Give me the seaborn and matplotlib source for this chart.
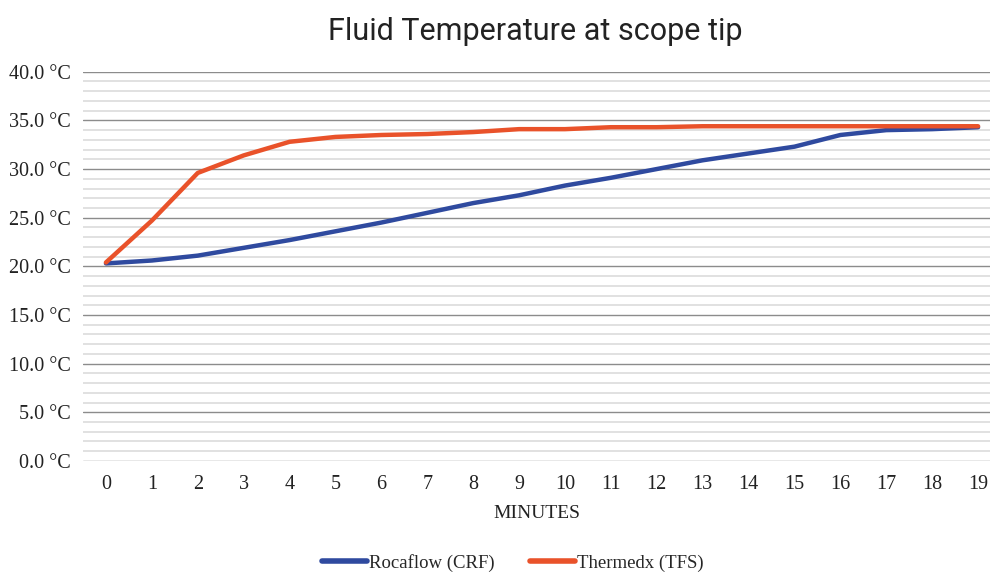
import numpy as np
import pandas as pd
import matplotlib.pyplot as plt
import seaborn as sns
from matplotlib.ticker import MultipleLocator, FuncFormatter

minutes = list(range(20))
rocaflow = [20.3, 20.6, 21.1, 21.9, 22.7, 23.6, 24.5, 25.5, 26.5, 27.3,
            28.3, 29.1, 30.0, 30.9, 31.6, 32.3, 33.5, 34.0, 34.1, 34.3]
thermedx = [20.4, 24.7, 29.6, 31.4, 32.8, 33.3, 33.5, 33.6, 33.8, 34.1,
            34.1, 34.3, 34.3, 34.4, 34.4, 34.4, 34.4, 34.4, 34.4, 34.4]
series_names = ['Rocaflow (CRF)', 'Thermedx (TFS)']
colors = ['#2F4A9F', '#E9522A']

df = pd.DataFrame({
    'minute': minutes * 2,
    'temp': rocaflow + thermedx,
    'series': [series_names[0]] * 20 + [series_names[1]] * 20,
})

sns.set_style('white')
plt.rcParams['font.family'] = ['Liberation Serif', 'DejaVu Serif']

fig = plt.figure(figsize=(9.93, 5.74), dpi=100)
ax = fig.add_axes([83 / 993, 0.197, 907 / 993, 0.678])

sns.lineplot(data=df, x='minute', y='temp', hue='series', palette=colors,
             linewidth=3.2, ax=ax, legend=False, solid_capstyle='round',
             solid_joinstyle='round')

ax.set_xlim(-0.5, 19.26)
ax.set_ylim(0, 40)
ax.set_xticks(minutes)
ax.yaxis.set_major_locator(MultipleLocator(5))
ax.yaxis.set_minor_locator(MultipleLocator(1))
ax.yaxis.set_major_formatter(FuncFormatter(lambda v, p: f'{v:.1f} °C'))
ax.grid(which='major', axis='y', color='#8c8c8c', linewidth=1.0)
ax.grid(which='minor', axis='y', color='#dcdcdc', linewidth=1.2)
ax.set_axisbelow(True)
for s in ax.spines.values():
    s.set_visible(False)
ax.tick_params(axis='both', which='both', length=0, labelsize=14.5, colors='#222222')
ax.tick_params(axis='x', pad=10)
ax.tick_params(axis='y', pad=9)
ax.set_xlabel('MINUTES', fontsize=14, color='#222222', labelpad=8)
ax.set_ylabel('')

fig.text(535 / 993, 1 - 32 / 574, 'Fluid Temperature at scope tip', ha='center', va='center',
         fontsize=22, family=['Roboto', 'DejaVu Sans'], color='#222222')

handles = [plt.Line2D([0], [0], color=c, linewidth=4, solid_capstyle='round') for c in colors]
fig.legend(handles, series_names, loc='center', ncol=2, frameon=False,
           fontsize=13.5, bbox_to_anchor=(513 / 993, 1 - 563 / 574), handlelength=2.4,
           handletextpad=0.1, columnspacing=1.9)

fig.savefig('out.png', dpi=100)
